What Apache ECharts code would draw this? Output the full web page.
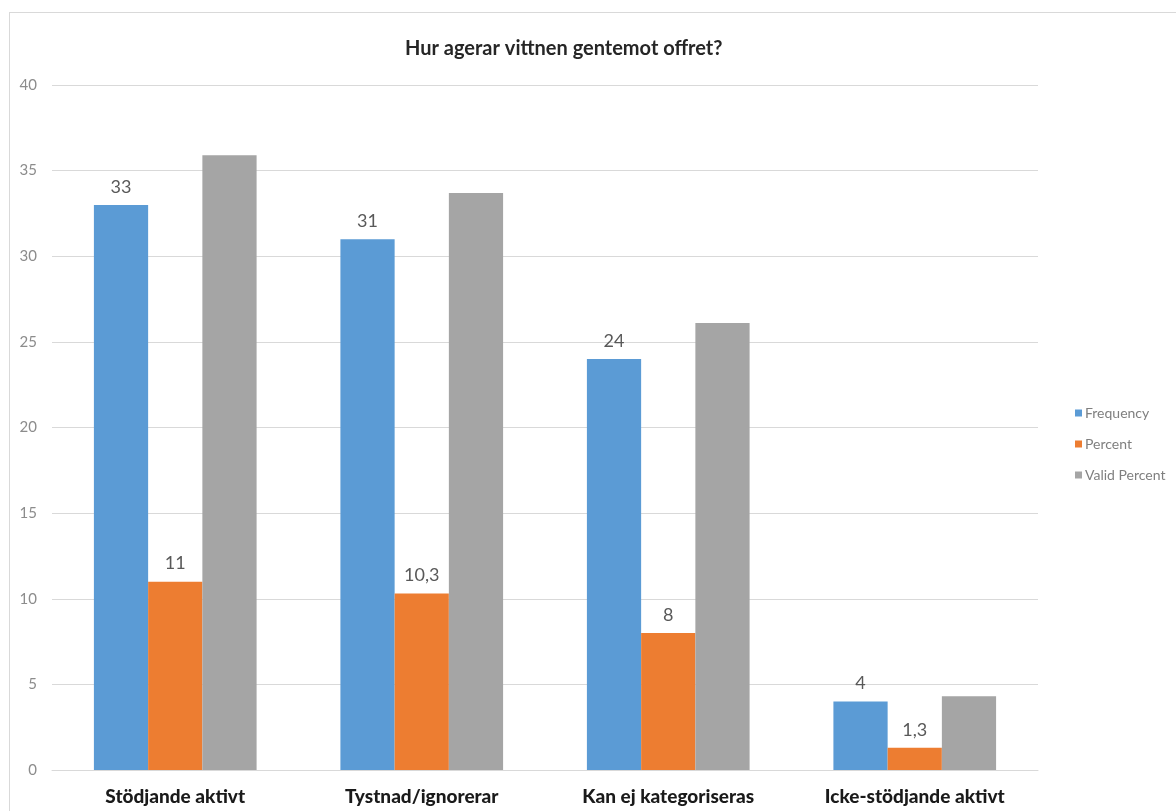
<!DOCTYPE html>
<html>
<head>
<meta charset="utf-8">
<script src="https://cdn.jsdelivr.net/npm/echarts@6/dist/echarts.min.js"></script>
<style>
html,body{margin:0;padding:0;background:#fff;}
#frame{position:absolute;left:9px;top:12px;width:1300px;height:900px;border:1px solid #d9d9d9;box-sizing:border-box;}
#chart{position:absolute;left:0;top:0;width:1176px;height:811px;}
</style>
</head>
<body>
<div id="frame"></div>
<div id="chart"></div>
<script>
const categories = ['Stödjande aktivt', 'Tystnad/ignorerar', 'Kan ej kategoriseras', 'Icke-stödjande aktivt'];
const frequency = [33, 31, 24, 4];
const percent = [11, 10.3, 8, 1.3];
const validPercent = [35.9, 33.7, 26.1, 4.3];
const seriesNames = ['Frequency', 'Percent', 'Valid Percent'];
const chartTitle = 'Hur agerar vittnen gentemot offret?';

const chart = echarts.init(document.getElementById('chart'), null, {renderer: 'canvas'});
const fmt = p => String(p.value).replace('.', ',');
const labelStyle = {show: true, position: 'top', distance: 9, color: '#595959', fontSize: 18, fontFamily: 'Lato, sans-serif', formatter: fmt};

chart.setOption({
  backgroundColor: 'transparent',
  animation: false,
  title: {
    text: chartTitle,
    left: 400,
    top: 34,
    textStyle: {fontFamily: 'Lato, sans-serif', fontWeight: 'bold', fontSize: 20, color: '#262626'}
  },
  legend: {
    orient: 'vertical',
    left: 1070,
    top: 401,
    itemWidth: 7,
    itemHeight: 7,
    itemGap: 17,
    icon: 'rect',
    data: seriesNames,
    textStyle: {fontFamily: 'Lato, sans-serif', fontSize: 14, color: '#7f7f7f', padding: [0, 0, 0, -2]}
  },
  grid: {left: 52, right: 138, top: 85, bottom: 41, containLabel: false},
  xAxis: {
    type: 'category',
    data: categories,
    axisLine: {lineStyle: {color: '#d9d9d9'}},
    axisTick: {show: false},
    axisLabel: {margin: 17, color: '#1a1a1a', fontFamily: 'Lato, sans-serif', fontWeight: 900, fontSize: 19}
  },
  yAxis: {
    type: 'value',
    min: 0, max: 40, interval: 5,
    axisLine: {show: false},
    axisTick: {show: false},
    splitLine: {lineStyle: {color: '#d9d9d9'}},
    axisLabel: {margin: 15, color: '#8c8c8c', fontFamily: 'Lato, sans-serif', fontSize: 15}
  },
  series: [
    {name: seriesNames[0], type: 'bar', data: frequency, barGap: '0%', barCategoryGap: '34%', itemStyle: {color: '#5b9bd5'}, label: labelStyle},
    {name: seriesNames[1], type: 'bar', data: percent, barGap: '0%', barCategoryGap: '34%', itemStyle: {color: '#ed7d31'}, label: labelStyle},
    {name: seriesNames[2], type: 'bar', data: validPercent, barGap: '0%', barCategoryGap: '34%', itemStyle: {color: '#a5a5a5'}, label: {show: false}}
  ]
});
</script>
</body>
</html>
